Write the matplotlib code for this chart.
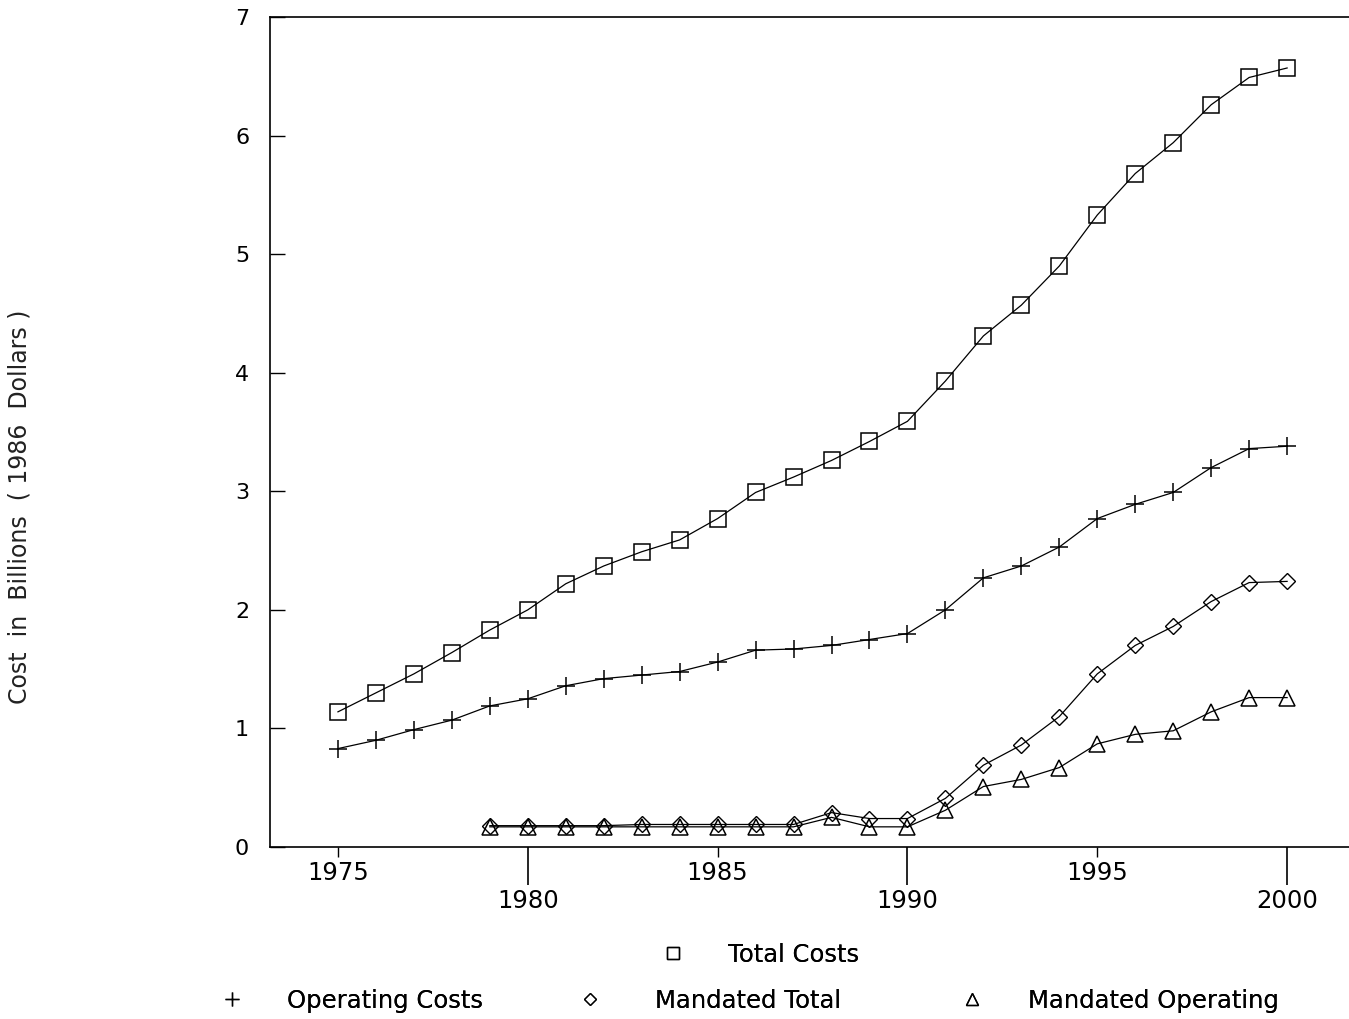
import matplotlib
matplotlib.use("Agg")
import matplotlib.pyplot as plt
from matplotlib.lines import Line2D

years = list(range(1975, 2001))
total_costs = [1.14, 1.30, 1.46, 1.64, 1.83, 2.00, 2.22, 2.37, 2.49, 2.59,
               2.77, 2.99, 3.12, 3.26, 3.42, 3.59, 3.93, 4.31, 4.57, 4.90,
               5.33, 5.68, 5.94, 6.26, 6.49, 6.57]
operating_costs = [0.83, 0.90, 0.99, 1.07, 1.19, 1.25, 1.36, 1.42, 1.45, 1.48,
                   1.56, 1.66, 1.67, 1.70, 1.75, 1.80, 2.00, 2.27, 2.37, 2.53,
                   2.77, 2.89, 2.99, 3.20, 3.36, 3.38]
mand_years = list(range(1979, 2001))
mandated_total = [0.18, 0.18, 0.18, 0.18, 0.19, 0.19, 0.19, 0.19, 0.19, 0.29,
                  0.24, 0.24, 0.41, 0.69, 0.86, 1.10, 1.46, 1.70, 1.86, 2.07,
                  2.23, 2.24]
mandated_operating = [0.17, 0.17, 0.17, 0.17, 0.17, 0.17, 0.17, 0.17, 0.17, 0.25,
                      0.17, 0.17, 0.31, 0.51, 0.57, 0.67, 0.87, 0.95, 0.98, 1.14,
                      1.26, 1.26]

major_years = [1980, 1990, 2000]
minor_years = [1975, 1985, 1995]
y_ticks = [0, 1, 2, 3, 4, 5, 6, 7]

series_names = ['Total Costs', 'Operating Costs', 'Mandated Total', 'Mandated Operating']

plt.rcParams['font.family'] = ['DejaVu Sans']

W, H = 1349, 1019
fig = plt.figure(figsize=(W / 100, H / 100), dpi=100)
ax = fig.add_axes([270 / W, 1 - 847 / H, (1349 - 270) / W, (847 - 17) / H])

lw = 0.9
ax.plot(years, total_costs, color='black', lw=lw, marker='s', ms=11.5,
        mfc='none', mec='black', mew=1.1)
ax.plot(years, operating_costs, color='black', lw=lw, marker='+', ms=13,
        mew=1.1)
ax.plot(mand_years, mandated_total, color='black', lw=lw, marker='D', ms=8,
        mfc='none', mec='black', mew=1.0)
ax.plot(mand_years, mandated_operating, color='black', lw=lw, marker='^', ms=11,
        mfc='none', mec='black', mew=1.1)

ax.set_xlim(1973.21, 2001.63)
ax.set_ylim(0, 7)

ax.spines['right'].set_visible(False)
for s in ['left', 'top', 'bottom']:
    ax.spines[s].set_linewidth(1.2)

ax.set_yticks(y_ticks)
ax.tick_params(axis='y', direction='in', length=11, width=1, pad=15,
               labelsize=16)

ax.set_xticks(major_years)
ax.set_xticks(minor_years, minor=True)
ax.set_xticklabels([str(y) for y in major_years])
ax.set_xticklabels([str(y) for y in minor_years], minor=True)
ax.tick_params(axis='x', which='major', direction='out', length=27, width=1.2,
               pad=3, labelsize=17.5)
ax.tick_params(axis='x', which='minor', direction='out', length=7, width=1,
               pad=3, labelsize=17.5)

fig.text(20 / W, 1 - 507 / H, 'Cost  in  Billions  ( 1986  Dollars )',
         rotation=90, ha='center', va='center', fontsize=17, color='#222222')

handles = [
    Line2D([], [], ls='none', marker='s', ms=8, mfc='none', mec='black', mew=1),
    Line2D([], [], ls='none', marker='+', ms=10, mec='black', mew=1),
    Line2D([], [], ls='none', marker='D', ms=6, mfc='none', mec='black', mew=0.9),
    Line2D([], [], ls='none', marker='^', ms=8, mfc='none', mec='black', mew=1),
]
# marker x, text x, y  (pixel positions of legend entries)
entry_pos = [(673, 728, 955), (232, 287, 1001), (590, 655, 1001), (972, 1028, 1001)]

fs = 17.5
fs_px = fs * 100 / 72
for h, name, (mx, tx, yy) in zip(handles, series_names, entry_pos):
    hl = 1.0
    anchor_x = mx - hl * fs_px / 2
    pad = (tx - mx - hl * fs_px / 2) / fs_px
    leg = fig.legend([h], [name], loc='center left',
                     bbox_to_anchor=(anchor_x / W, 1 - yy / H),
                     frameon=False, fontsize=fs, handlelength=hl,
                     handletextpad=pad, borderpad=0, borderaxespad=0)
    fig.add_artist(leg)

fig.savefig('out.png', dpi=100)
